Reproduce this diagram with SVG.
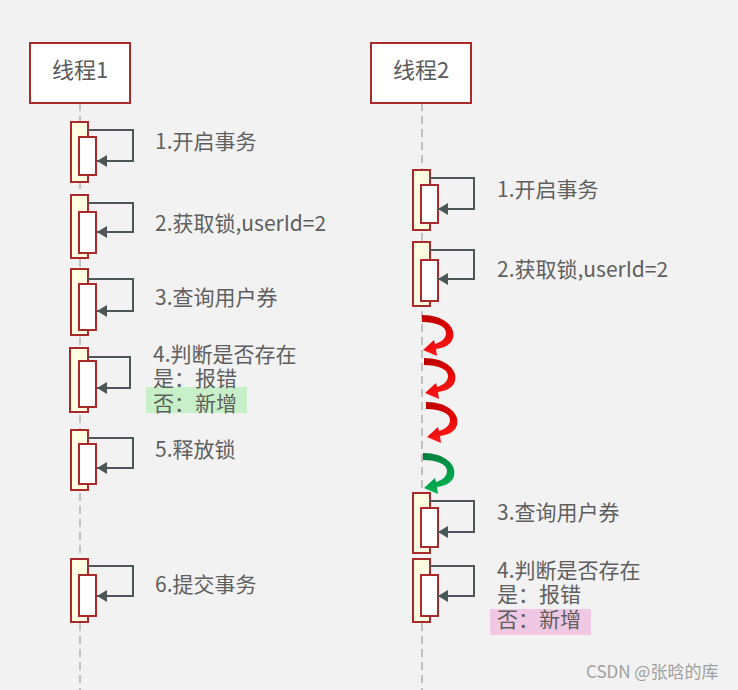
<svg xmlns="http://www.w3.org/2000/svg" width="738" height="690" viewBox="0 0 738 690">
<style>
.bg{fill:#f2f2f2}
.head{fill:#ffffff;stroke:#a82a2a;stroke-width:2}
.ht{font-family:"Noto Sans CJK SC","Noto Sans",sans-serif;font-size:22px;fill:#5a5a5a;text-anchor:middle}
.life{stroke:#c0c0c0;stroke-width:2;stroke-dasharray:8 5;fill:none}
.outer{fill:#fffde2;stroke:#a82a2a;stroke-width:2}
.inner{fill:#ffffff;stroke:#a82a2a;stroke-width:2}
.loop{fill:none;stroke:#4d5656;stroke-width:2}
.t{font-family:"Noto Sans CJK SC","Noto Sans",sans-serif;font-size:21px;fill:#5f5f5f}
.wm{font-family:"Noto Sans CJK SC","Noto Sans",sans-serif;font-size:17px;fill:#a0a0a0}
</style>
<defs>
<marker id="ah" markerWidth="12" markerHeight="12" refX="10" refY="6" orient="auto" markerUnits="userSpaceOnUse">
<path d="M0,0 L10,6 L0,12 Z" fill="#4d5656"/>
</marker>
<linearGradient id="gr" x1="0" y1="0" x2="0.3" y2="1">
<stop offset="0" stop-color="#b80000"/>
<stop offset="0.5" stop-color="#e00000"/>
<stop offset="1" stop-color="#ff1a1a"/>
</linearGradient>
<linearGradient id="gg" x1="0" y1="0" x2="0.3" y2="1">
<stop offset="0" stop-color="#007a3a"/>
<stop offset="1" stop-color="#00b050"/>
</linearGradient>
<path id="curve" d="M0,0 C22,0 34,12 31,23 C29,30 22,33 14,34 L15,41 L1,35 L12,25 L13,29 C19,27 24,24 24,18 C24,11 14,7 0,7 Z"/>
</defs>
<rect class="bg" x="0" y="0" width="738" height="690"/>

<g id="connectors">
<line class="life" x1="80" y1="103" x2="80" y2="690"/>
<line class="life" x1="422" y1="103" x2="422" y2="690"/>
</g>

<g id="thread1">
<rect class="head" x="30" y="43" width="100" height="60"/>
<text class="ht" x="80" y="78">线程1</text>
</g>
<g id="thread2">
<rect class="head" x="371" y="43" width="100" height="60"/>
<text class="ht" x="421" y="78">线程2</text>
</g>

<g id="t1s1">
<rect class="outer" x="71" y="122" width="17" height="60"/>
<rect class="inner" x="79" y="137" width="17" height="38"/>
<polyline class="loop" points="88,130 133,130 133,161 97,161" marker-end="url(#ah)"/>
<text class="t" x="155" y="149">1.开启事务</text>
</g>
<g id="t1s2">
<rect class="outer" x="71" y="195" width="17" height="63"/>
<rect class="inner" x="79" y="212" width="17" height="41"/>
<polyline class="loop" points="88,203 133,203 133,232 97,232" marker-end="url(#ah)"/>
<text class="t" x="155" y="231">2.获取锁,userId=2</text>
</g>
<g id="t1s3">
<rect class="outer" x="71" y="269" width="17" height="66"/>
<rect class="inner" x="79" y="284" width="17" height="46"/>
<polyline class="loop" points="88,279 133,279 133,311 97,311" marker-end="url(#ah)"/>
<text class="t" x="155" y="305">3.查询用户券</text>
</g>
<g id="t1s4">
<rect class="outer" x="70" y="348" width="18" height="64"/>
<rect class="inner" x="79" y="361" width="17" height="46"/>
<polyline class="loop" points="88,357 130,357 130,388 97,388" marker-end="url(#ah)"/>
<rect x="146" y="387" width="101" height="26" fill="#c8f0c8"/>
<text class="t" x="153" y="362">4.判断是否存在<tspan x="153" y="386">是：报错</tspan><tspan x="153" y="411">否：新增</tspan></text>
</g>
<g id="t1s5">
<rect class="outer" x="71" y="430" width="17" height="60"/>
<rect class="inner" x="79" y="444" width="17" height="40"/>
<polyline class="loop" points="88,438 133,438 133,468 97,468" marker-end="url(#ah)"/>
<text class="t" x="155" y="457">5.释放锁</text>
</g>
<g id="t1s6">
<rect class="outer" x="71" y="559" width="17" height="63"/>
<rect class="inner" x="79" y="575" width="17" height="41"/>
<polyline class="loop" points="88,566 133,566 133,596 97,596" marker-end="url(#ah)"/>
<text class="t" x="155" y="592">6.提交事务</text>
</g>

<g id="t2s1">
<rect class="outer" x="413" y="170" width="17" height="60"/>
<rect class="inner" x="421" y="185" width="17" height="38"/>
<polyline class="loop" points="430,178 474,178 474,209 438,209" marker-end="url(#ah)"/>
<text class="t" x="497" y="197">1.开启事务</text>
</g>
<g id="t2s2">
<rect class="outer" x="413" y="242" width="17" height="64"/>
<rect class="inner" x="421" y="260" width="17" height="41"/>
<polyline class="loop" points="430,250 474,250 474,279 438,279" marker-end="url(#ah)"/>
<text class="t" x="497" y="277">2.获取锁,userId=2</text>
</g>
<g id="waits">
<use href="#curve" x="422" y="315" fill="url(#gr)"/>
<use href="#curve" x="424" y="358" fill="url(#gr)"/>
<use href="#curve" x="426" y="402" fill="url(#gr)"/>
<use href="#curve" x="423" y="453" fill="url(#gg)"/>
</g>
<g id="t2s3">
<rect class="outer" x="413" y="493" width="17" height="60"/>
<rect class="inner" x="421" y="508" width="17" height="39"/>
<polyline class="loop" points="430,501 474,501 474,532 438,532" marker-end="url(#ah)"/>
<text class="t" x="497" y="520">3.查询用户券</text>
</g>
<g id="t2s4">
<rect class="outer" x="413" y="559" width="17" height="63"/>
<rect class="inner" x="421" y="575" width="17" height="41"/>
<polyline class="loop" points="430,566 474,566 474,596 438,596" marker-end="url(#ah)"/>
<rect x="490" y="609" width="101" height="26" fill="#f0c8e4"/>
<text class="t" x="497" y="578">4.判断是否存在<tspan x="497" y="602">是：报错</tspan><tspan x="497" y="627">否：新增</tspan></text>
</g>
<text class="wm" x="586" y="678">CSDN @张晗的库</text>
</svg>
